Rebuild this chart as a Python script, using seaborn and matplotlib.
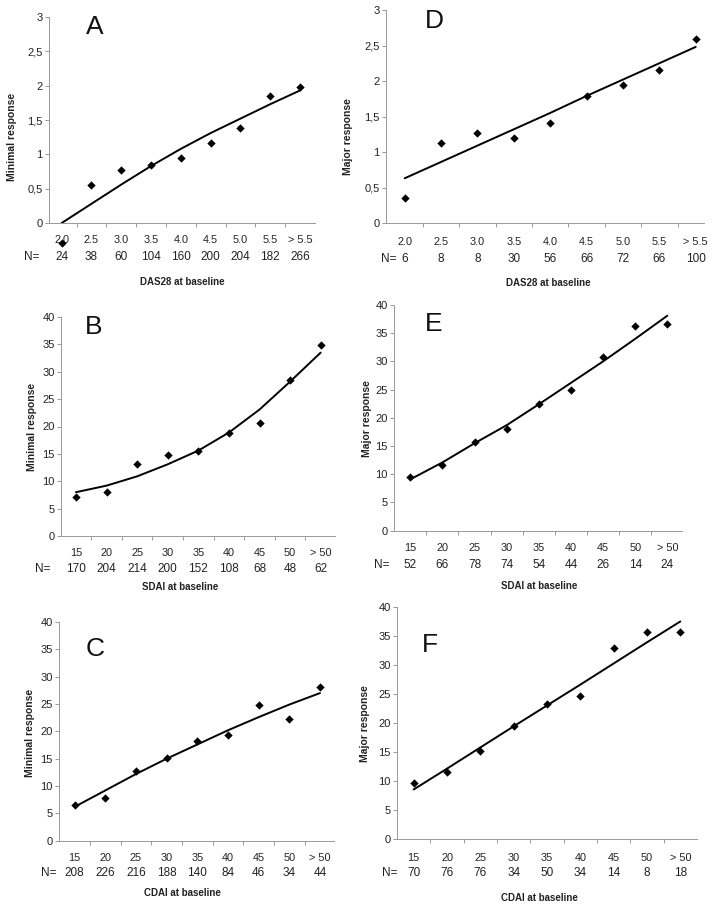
import numpy as np
import seaborn as sns
import matplotlib.pyplot as plt
import matplotlib.transforms as mtrans
from matplotlib.ticker import FuncFormatter

sns.set_theme(style="white")
plt.rcParams['font.family'] = ['Liberation Sans', 'DejaVu Sans']

# categories on the x axis
das_cats = ["2.0", "2.5", "3.0", "3.5", "4.0", "4.5", "5.0", "5.5", "> 5.5"]
sdai_cats = ["15", "20", "25", "30", "35", "40", "45", "50", "> 50"]
cdai_cats = ["15", "20", "25", "30", "35", "40", "45", "50", "> 50"]

# A: minimal response vs DAS28
n_a = [24, 38, 60, 104, 160, 200, 204, 182, 266]
pts_a = [-0.29, 0.555, 0.775, 0.85, 0.95, 1.17, 1.39, 1.85, 1.98]
fit_a = [0.0, 0.28, 0.56, 0.83, 1.08, 1.31, 1.52, 1.73, 1.93]

# D: major response vs DAS28
n_d = [6, 8, 8, 30, 56, 66, 72, 66, 100]
pts_d = [0.35, 1.13, 1.27, 1.20, 1.41, 1.79, 1.94, 2.16, 2.59]
fit_d = [0.63, 0.86, 1.09, 1.32, 1.55, 1.79, 2.02, 2.25, 2.48]

# B: minimal response vs SDAI
n_b = [170, 204, 214, 200, 152, 108, 68, 48, 62]
pts_b = [7.1, 8.1, 13.1, 14.75, 15.6, 18.8, 20.7, 28.5, 34.9]
fit_b = [8.0, 9.2, 10.9, 13.1, 15.6, 18.9, 23.1, 28.2, 33.5]

# E: major response vs SDAI
n_e = [52, 66, 78, 74, 54, 44, 26, 14, 24]
pts_e = [9.45, 11.6, 15.65, 17.95, 22.5, 25.0, 30.8, 36.3, 36.55]
fit_e = [9.1, 12.1, 15.5, 18.7, 22.4, 26.2, 30.0, 34.0, 38.1]

# C: minimal response vs CDAI
n_c = [208, 226, 216, 188, 140, 84, 46, 34, 44]
pts_c = [6.55, 7.9, 12.8, 15.15, 18.2, 19.35, 24.8, 22.2, 28.15]
fit_c = [6.2, 9.2, 12.2, 15.0, 17.6, 20.2, 22.6, 24.9, 27.0]

# F: major response vs CDAI
n_f = [70, 76, 76, 34, 50, 34, 14, 8, 18]
pts_f = [9.7, 11.5, 15.1, 19.4, 23.3, 24.6, 32.9, 35.7, 35.6]
fit_f = [8.5, 12.1, 15.75, 19.4, 23.0, 26.6, 30.25, 33.9, 37.5]

W, H = 714, 908
fig = plt.figure(figsize=(W / 100, H / 100), dpi=100)

# layout in pixels: axes box, first/last point x, text rows
panels = [
    dict(letter="A", cats=das_cats, n=n_a, pts=pts_a, fit=fit_a, ymax=3, step=0.5,
         ylabel="Minimal response", xlabel="DAS28 at baseline",
         box=(49, 315, 17, 223), px=(61.7, 300.0), cat_y=239, n_y=257, xl=(182, 282),
         yl=(12, 137), nlab_x=32, let=(95, 27)),
    dict(letter="D", cats=das_cats, n=n_d, pts=pts_d, fit=fit_d, ymax=3, step=0.5,
         ylabel="Major response", xlabel="DAS28 at baseline",
         box=(386, 704, 10, 223), px=(404.7, 695.7), cat_y=240.7, n_y=258.7, xl=(548, 283.3),
         yl=(348, 137), nlab_x=389, let=(434, 21)),
    dict(letter="B", cats=sdai_cats, n=n_b, pts=pts_b, fit=fit_b, ymax=40, step=5,
         ylabel="Minimal response", xlabel="SDAI at baseline",
         box=(61, 335, 317, 536), px=(76.0, 320.7), cat_y=552.3, n_y=569.3, xl=(180, 586.7),
         yl=(32, 426.7), nlab_x=43, let=(94, 327)),
    dict(letter="E", cats=sdai_cats, n=n_e, pts=pts_e, fit=fit_e, ymax=40, step=5,
         ylabel="Major response", xlabel="SDAI at baseline",
         box=(394, 682, 305, 530.7), px=(410.3, 667.3), cat_y=547.3, n_y=565, xl=(539, 586),
         yl=(367, 418.3), nlab_x=382, let=(434, 324)),
    dict(letter="C", cats=cdai_cats, n=n_c, pts=pts_c, fit=fit_c, ymax=40, step=5,
         ylabel="Minimal response", xlabel="CDAI at baseline",
         box=(59, 334, 622, 840.7), px=(74.7, 320.0), cat_y=857.3, n_y=873.3, xl=(182, 893.3),
         yl=(30, 733.3), nlab_x=49, let=(95, 649)),
    dict(letter="F", cats=cdai_cats, n=n_f, pts=pts_f, fit=fit_f, ymax=40, step=5,
         ylabel="Major response", xlabel="CDAI at baseline",
         box=(397, 697, 607, 838.7), px=(413.7, 680.3), cat_y=857.3, n_y=873.3, xl=(539, 897.7),
         yl=(365, 723.3), nlab_x=390, let=(430, 645)),
]

comma_fmt = FuncFormatter(lambda v, _: f"{v:g}".replace(".", ","))

for p in panels:
    left, right, top, bottom = p["box"]
    ax = fig.add_axes([left / W, 1 - bottom / H, (right - left) / W, (bottom - top) / H])
    sns.lineplot(x=p["cats"], y=p["fit"], color="black", lw=1.4, sort=False, ax=ax)
    sns.scatterplot(x=p["cats"], y=p["pts"], marker="D", color="black", s=18,
                    linewidth=0, clip_on=False, zorder=3, ax=ax)

    first, last = p["px"]
    sp = (last - first) / 8
    ax.set_xlim((left - first) / sp, 8 + (right - last) / sp)
    ax.set_ylim(0, p["ymax"])
    ax.set_yticks(np.arange(0, p["ymax"] + p["step"] / 2, p["step"]))
    ax.yaxis.set_major_formatter(comma_fmt)

    ax.set_xticks(range(9))
    ax.set_xticklabels(p["cats"])
    ax.set_xticks(np.arange(0.5, 8, 1), minor=True)
    pad_pt = (p["cat_y"] - bottom - 4) * 0.72
    ax.tick_params(axis="x", which="major", length=0, pad=pad_pt, labelsize=7.8, colors="#222222")
    ax.tick_params(axis="x", which="minor", bottom=True, length=3, width=0.6, color="#888888")
    ax.tick_params(axis="y", left=True, length=3, width=0.6, color="#888888", pad=1.5,
                   labelsize=8, labelcolor="#222222")

    sns.despine(ax=ax)
    for s in ["left", "bottom"]:
        ax.spines[s].set_color("#999999")
        ax.spines[s].set_linewidth(0.7)

    # N row under the categories
    trans = mtrans.blended_transform_factory(ax.transData, fig.transFigure)
    for i, n in enumerate(p["n"]):
        ax.text(i, 1 - p["n_y"] / H, str(n), transform=trans, ha="center", va="center",
                fontsize=8.5, color="#222222")
    fig.text(p["nlab_x"] / W, 1 - p["n_y"] / H, "N=", ha="center", va="center",
             fontsize=8.5, color="#222222")

    ax.set_xlabel(p["xlabel"], fontsize=7, fontweight="bold", va="center", color="#222222")
    ax.xaxis.set_label_coords((p["xl"][0] - left) / (right - left), (bottom - p["xl"][1]) / (bottom - top))
    ax.set_ylabel(p["ylabel"], fontsize=7.5, fontweight="bold", va="center", color="#222222")
    ax.yaxis.set_label_coords((p["yl"][0] - left) / (right - left), (bottom - p["yl"][1]) / (bottom - top))

    fig.text(p["let"][0] / W, 1 - p["let"][1] / H, p["letter"], ha="center", va="center",
             fontsize=19, color="#111111")

fig.savefig("out.png", dpi=100)
